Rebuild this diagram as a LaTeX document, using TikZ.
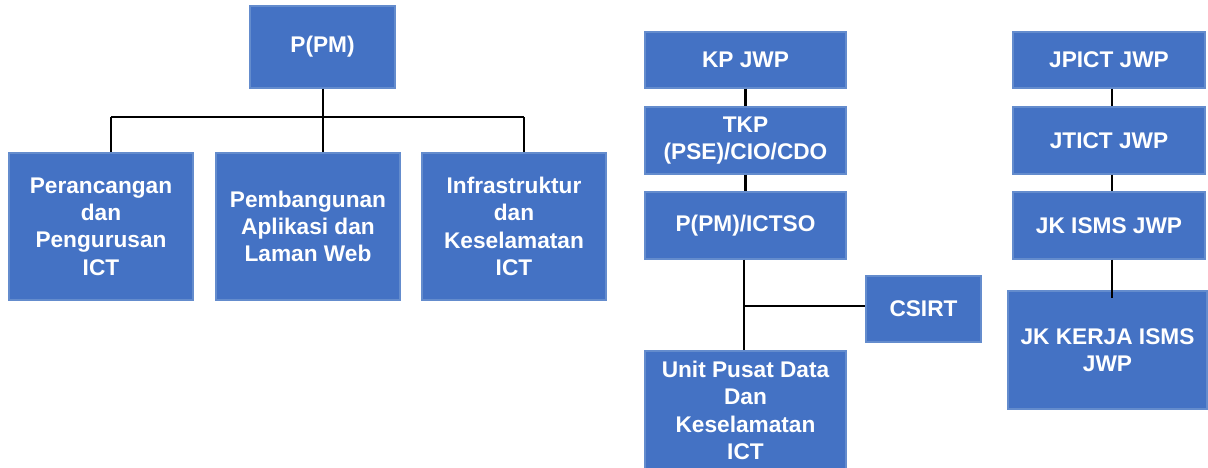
\documentclass[tikz,border=0pt]{standalone}
\usepackage{fontspec}
\setmainfont{Liberation Sans}
\definecolor{boxfill}{RGB}{68,114,196}
\definecolor{boxline}{RGB}{100,140,205}
\begin{document}
\begin{tikzpicture}[x=0.75pt,y=-0.75pt,
  box/.style={rectangle,fill=boxfill,draw=boxline,line width=0.8pt,inner sep=0pt,
    text=white,align=center,font=\bfseries\fontsize{17}{20.5}\selectfont},
  conn/.style={draw=black,line width=2.1pt}]
\useasboundingbox (0,0) rectangle (1208,468);
% left group
\node[box,minimum width=108.75pt,minimum height=61.5pt] (ppm) at (322.5,47) {P(PM)};
\node[box,minimum width=138pt,minimum height=110.25pt] (per) at (101,226.5) {Perancangan\\dan\\Pengurusan\\ICT};
\node[box,minimum width=138pt,minimum height=110.25pt] (pem) at (308,226.5) {Pembangunan\\Aplikasi dan\\Laman Web};
\node[box,minimum width=138pt,minimum height=110.25pt] (inf) at (514,226.5) {Infrastruktur\\dan\\Keselamatan\\ICT};
\coordinate (b1) at (111,117);
\coordinate (b2) at (323,117);
\coordinate (b3) at (524,117);
\draw[conn] (ppm.south -| b2) -- (b2);
\draw[conn] (b1) -- (b3);
\draw[conn] (b1) -- (b1 |- per.north);
\draw[conn] (b2) -- (b2 |- pem.north);
\draw[conn] (b3) -- (b3 |- inf.north);
% middle group
\node[box,minimum width=150.75pt,minimum height=42pt] (kp) at (745.5,60) {KP JWP};
\node[box,minimum width=150.75pt,minimum height=50.25pt] (tkp) at (745.5,140.5) {TKP\\(PSE)/CIO/CDO};
\node[box,minimum width=150.75pt,minimum height=50.25pt] (ictso) at (745.5,225.5) {P(PM)/ICTSO};
\node[box,minimum width=86.25pt,minimum height=49.5pt] (csirt) at (923.5,309) {CSIRT};
\node[box,minimum width=150.75pt,minimum height=89.25pt] (unit) at (745.5,410.5) {Unit Pusat Data\\Dan\\Keselamatan\\ICT};
\coordinate (m1) at (744,306);
\draw[conn] (kp.south) -- (tkp.north);
\draw[conn] (tkp.south) -- (ictso.north);
\draw[conn] (ictso.south -| m1) -- (unit.north -| m1);
\draw[conn] (m1) -- (csirt.west |- m1);
% right group
\node[box,minimum width=144pt,minimum height=42pt] (jpict) at (1109,60) {JPICT JWP};
\node[box,minimum width=144pt,minimum height=50.25pt] (jtict) at (1109,140.5) {JTICT JWP};
\node[box,minimum width=144pt,minimum height=50.25pt] (jkisms) at (1109,225.5) {JK ISMS JWP};
\node[box,minimum width=149.25pt,minimum height=88.5pt] (kerja) at (1107.5,350) {JK KERJA ISMS\\JWP};
\coordinate (r1) at (1112,0);
\draw[conn] (jpict.south -| r1) -- (jtict.north -| r1);
\draw[conn] (jtict.south -| r1) -- (jkisms.north -| r1);
\draw[conn] (jkisms.south -| r1) -- ([yshift=-6pt]kerja.north -| r1);
\end{tikzpicture}
\end{document}
